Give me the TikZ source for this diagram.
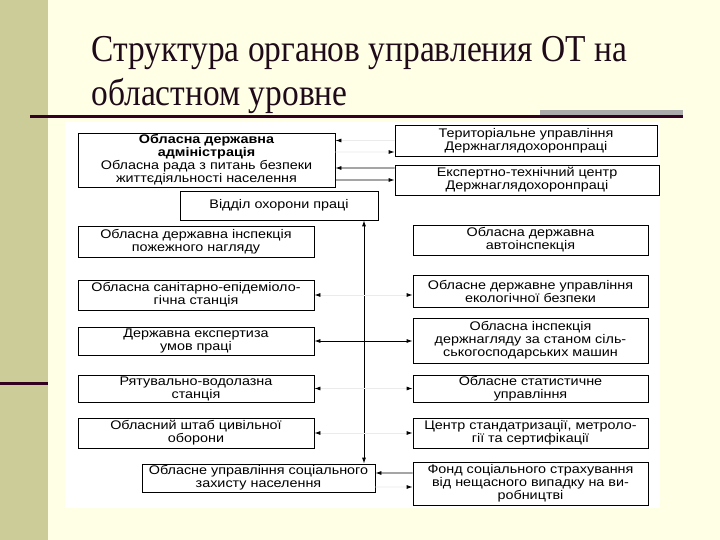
\documentclass[tikz,border=0pt]{standalone}
\usepackage{fontspec}
\setmainfont{Liberation Sans}
\newfontfamily\titlefont[FakeStretch=0.88]{Liberation Serif}
\newfontfamily\boxfont[FakeStretch=1.15]{Liberation Sans}
\usetikzlibrary{arrows.meta}

\definecolor{pagebg}{RGB}{255,255,229}
\definecolor{sidebar}{RGB}{204,204,153}
\definecolor{rulecol}{RGB}{51,0,34}
\definecolor{titlecol}{RGB}{30,10,25}

\begin{document}
\begin{tikzpicture}[x=1bp, y=-1bp,
    orgbox/.style={draw, line width=0.8bp, align=center, inner sep=1bp,
      font=\boxfont\fontsize{12.5bp}{13bp}\selectfont},
    link/.style={line width=0.8bp, -{Latex[length=6bp,width=4bp]}},
    duallink/.style={line width=0.8bp, {Latex[length=6bp,width=4bp]}-{Latex[length=6bp,width=4bp]}},
    faint/.style={draw=black!8, line width=0.8bp, -{Latex[length=6bp,width=4bp,color=black]}}]
  \useasboundingbox (0,0) rectangle (720,540);
  \fill[pagebg] (0,0) rectangle (720,540);
  \fill[sidebar] (0,0) rectangle (48,540);
  \draw[rulecol, line width=3bp] (0,383) -- (48,383);
  \fill[black!33] (540,110) rectangle (683,116);
  \draw[rulecol, line width=3bp] (30,117) -- (683,117);
  \fill[white] (65,122) rectangle (660,508);

  \node[anchor=base west, align=left, text=titlecol,
    font=\titlefont\fontsize{38bp}{44bp}\selectfont] (title) at (88,106)
    {Структура органов управления ОТ на\\областном уровне};

  \node[orgbox, minimum width=257bp, minimum height=54bp] (oda) at (206.5,160)
    {{\bfseries Обласна державна}\\{\bfseries адміністрація}\\Обласна рада з питань безпеки\\життєдіяльності населення};
  \node[orgbox, minimum width=198bp, minimum height=29bp] (vop) at (279,205.5) {Відділ охорони праці};
  \node[orgbox, minimum width=236bp, minimum height=31bp] (pozh) at (196,241.5) {Обласна державна інспекція\\пожежного нагляду};
  \node[orgbox, minimum width=236bp, minimum height=30bp] (ses) at (196,295) {Обласна санітарно-епідеміоло-\\гічна станція};
  \node[orgbox, minimum width=236bp, minimum height=28bp] (ekspert) at (196,341) {Державна експертиза\\умов праці};
  \node[orgbox, minimum width=236bp, minimum height=27bp] (ryat) at (196,388.5) {Рятувально-водолазна\\станція};
  \node[orgbox, minimum width=236bp, minimum height=30bp] (shtab) at (196,433) {Обласний штаб цивільної\\оборони};
  \node[orgbox, minimum width=233bp, minimum height=28bp] (soc) at (258.5,478) {Обласне управління соціального\\захисту населення};

  \node[orgbox, minimum width=262bp, minimum height=31bp] (terupr) at (526,140.5) {Територіальне управління\\Держнаглядохоронпраці};
  \node[orgbox, minimum width=264bp, minimum height=30bp] (etc) at (527,180) {Експертно-технічний центр\\Держнаглядохоронпраці};
  \node[orgbox, minimum width=235bp, minimum height=30bp] (avto) at (530.5,240) {Обласна державна\\автоінспекція};
  \node[orgbox, minimum width=235bp, minimum height=32bp] (ekol) at (530.5,291) {Обласне державне управління\\екологічної безпеки};
  \node[orgbox, minimum width=235bp, minimum height=45bp] (silgosp) at (530.5,340.5) {Обласна інспекція\\держнагляду за станом сіль-\\ськогосподарських машин};
  \node[orgbox, minimum width=235bp, minimum height=27bp] (stat) at (530.5,388.5) {Обласне статистичне\\управління};
  \node[orgbox, minimum width=235bp, minimum height=30bp] (stand) at (530.5,433) {Центр стандатризації, метроло-\\гії та сертифікації};
  \node[orgbox, minimum width=235bp, minimum height=43bp] (fond) at (530.5,483.5) {Фонд соціального страхування\\від нещасного випадку на ви-\\робництві};

  \coordinate (spine) at (364,340);
  \draw[duallink] (spine |- vop.south) -- (spine |- soc.north);
  \draw[duallink] (ekspert.east) -- (silgosp.west |- ekspert.east);

  \draw[faint] (terupr.west) -- ([yshift=19.5bp]oda.east);
  \draw[faint] ([yshift=8bp]oda.east) -- ([yshift=-11.5bp]terupr.west);
  \draw[link] ([yshift=12bp]etc.west) -- ([yshift=-8bp]oda.east);
  \draw[link] ([yshift=-20bp]oda.east) -- (etc.west);

  \draw[faint] (spine |- ses.east) -- (ses.east);
  \draw[faint] (spine |- ses.east) -- (ekol.west |- ses.east);
  \draw[faint] (spine |- ryat.east) -- (ryat.east);
  \draw[faint] (spine |- ryat.east) -- (stat.west |- ryat.east);
  \draw[faint] (spine |- shtab.east) -- (shtab.east);
  \draw[faint] (spine |- shtab.east) -- (stand.west |- shtab.east);

  \draw[link] ([yshift=10.5bp]fond.west) -- ([yshift=5bp]soc.east);
  \draw[faint] ([yshift=-9bp]soc.east) -- ([yshift=-3.5bp]fond.west);
\end{tikzpicture}
\end{document}
